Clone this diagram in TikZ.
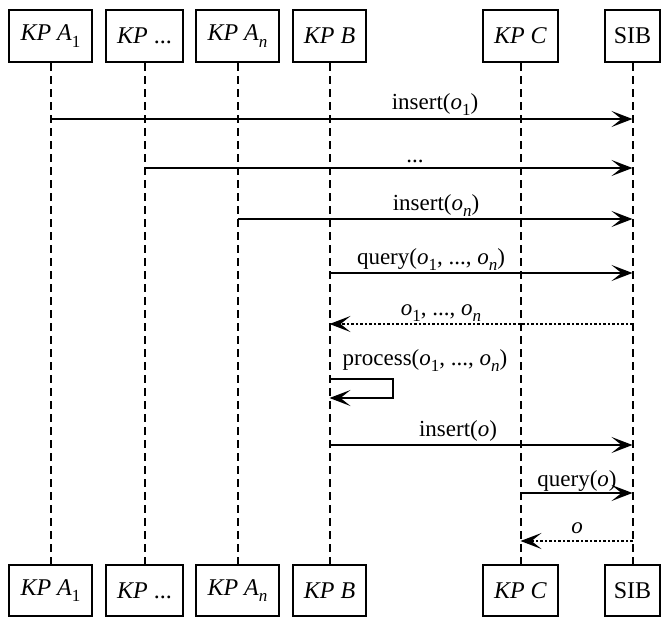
\documentclass[tikz,border=0pt]{standalone}
\usepackage{fontspec}
\setmainfont{Liberation Serif}
\usetikzlibrary{arrows.meta}
\newcommand\sbx[1]{\raisebox{-0.28em}{\fontsize{17}{17}\selectfont #1}}
\tikzset{
  actor/.style={draw, line width=2pt, minimum height=52pt, inner sep=0pt, font=\fontsize{24}{28}\selectfont},
  life/.style={line width=2pt, dash pattern=on 8pt off 5pt},
  tip/.tip={Stealth[length=21pt,width=16pt,inset=10pt]},
  msg/.style={line width=2.1pt, -tip},
  ret/.style={line width=2.1pt, dash pattern=on 2.5pt off 2pt, -tip},
  lbl/.style={anchor=base, inner sep=0pt, font=\fontsize{23}{27}\selectfont}
}
\begin{document}
\begin{tikzpicture}[x=1pt,y=-1pt]
\useasboundingbox (0,0) rectangle (661,618);
% top actors
\node[actor, minimum width=83pt] (a1t) at (50.5,36) {\textit{KP A}\sbx{1}};
\node[actor, minimum width=77pt] (adt) at (144.5,36) {\textit{KP} ...};
\node[actor, minimum width=83pt] (ant) at (237.5,36) {\textit{KP A}\sbx{\textit{n}}};
\node[actor, minimum width=73pt] (bt) at (329.5,36) {\textit{KP B}};
\node[actor, minimum width=75pt] (ct) at (520.5,36) {\textit{KP C}};
\node[actor, minimum width=55pt] (st) at (632.5,36) {SIB};
% bottom actors
\node[actor, minimum width=83pt, minimum height=51pt] (a1b) at (50.5,590.5) {\textit{KP A}\sbx{1}};
\node[actor, minimum width=77pt, minimum height=51pt] (adb) at (144.5,590.5) {\textit{KP} ...};
\node[actor, minimum width=83pt, minimum height=51pt] (anb) at (237.5,590.5) {\textit{KP A}\sbx{\textit{n}}};
\node[actor, minimum width=73pt, minimum height=51pt] (bb) at (329.5,590.5) {\textit{KP B}};
\node[actor, minimum width=75pt, minimum height=51pt] (cb) at (520.5,590.5) {\textit{KP C}};
\node[actor, minimum width=55pt, minimum height=51pt] (sb) at (632.5,590.5) {SIB};
% lifelines
\foreach \n in {a1,ad,an,b,c,s}{
  \draw[life] (\n t.south) -- (\n b.north);
}
% messages
\draw[msg] (a1t.south |- 0,119) -- (st.south |- 0,119);
\node[lbl] (l1) at (435,109) {insert(\textit{o}\sbx{1})};
\draw[msg] (adt.south |- 0,168) -- (st.south |- 0,168);
\node[lbl] (l2) at (415,162) {...};
\draw[msg] (ant.south |- 0,219) -- (st.south |- 0,219);
\node[lbl] (l3) at (436,210) {insert(\textit{o}\sbx{\textit{n}})};
\draw[msg] (bt.south |- 0,273) -- (st.south |- 0,273);
\node[lbl] (l4) at (431,264) {query(\textit{o}\sbx{1}, ..., \textit{o}\sbx{\textit{n}})};
\draw[ret] (st.south |- 0,324) -- (bt.south |- 0,324);
\node[lbl] (l5) at (441,315) {\textit{o}\sbx{1}, ..., \textit{o}\sbx{\textit{n}}};
% self message
\coordinate (p1) at (393,379);
\coordinate (p2) at (393,398);
\node[lbl] (l6) at (425,365) {process(\textit{o}\sbx{1}, ..., \textit{o}\sbx{\textit{n}})};
\draw[msg] (bt.south |- p1) -- (p1) -- (p2) -- (bt.south |- p2);
\draw[msg] (bt.south |- 0,445) -- (st.south |- 0,445);
\node[lbl] (l7) at (458,436) {insert(\textit{o})};
\draw[msg] (ct.south |- 0,493) -- (st.south |- 0,493);
\node[lbl] (l8) at (577,486) {query(\textit{o})};
\draw[ret] (st.south |- 0,541) -- (ct.south |- 0,541);
\node[lbl] (l9) at (577,533) {\textit{o}};
\end{tikzpicture}
\end{document}
